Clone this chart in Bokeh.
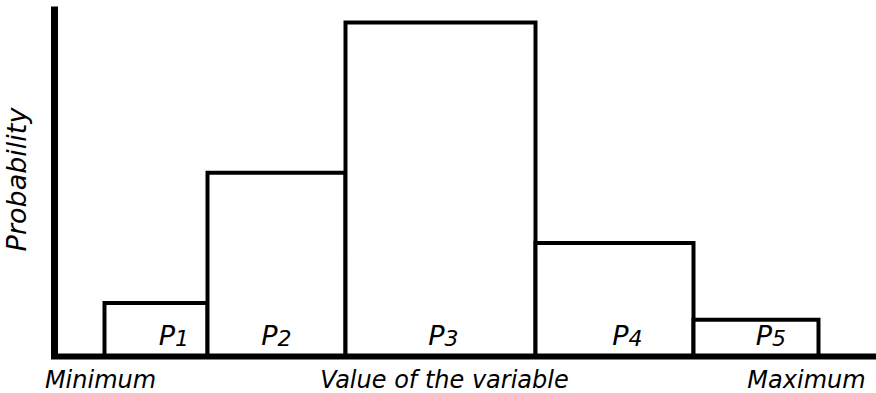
import math
from bokeh.plotting import figure
from bokeh.models import Range1d, ColumnDataSource
from bokeh.embed import file_html
from bokeh.resources import INLINE
from bokeh.core.properties import value

# ---------------- data ----------------
bin_edges = [5.0, 15.3, 29.1, 48.1, 63.9, 76.4]      # value of the variable
densities = [0.16, 0.55, 1.00, 0.34, 0.11]           # relative probability
bin_letters = ["P", "P", "P", "P", "P"]
bin_subscripts = ["1", "2", "3", "4", "5"]
x_labels = ["Minimum", "Value of the variable", "Maximum"]
x_label_pos = [4.6, 39.0, 75.2]
y_label = "Probability"

# ---------------- layout / style ----------------
W, H = 876, 393
X0, X1 = -5.4, 82.2
Y0, Y1 = -0.1108, 1.0659
xpx = (X1 - X0) / W
ypx = (Y1 - Y0) / H
label_shift_px = [18, 0, 3, 13, 15]
FONT = value("DejaVu Sans")

p = figure(width=W, height=H, x_range=Range1d(X0, X1), y_range=Range1d(Y0, Y1),
           output_backend="svg", toolbar_location=None, min_border=0,
           x_axis_type=None, y_axis_type=None)
p.grid.visible = False
p.outline_line_color = None
p.background_fill_color = "white"
p.border_fill_color = "white"

# bars
lefts = bin_edges[:-1]
rights = bin_edges[1:]
p.quad(left=lefts, right=rights, bottom=0, top=densities,
       fill_color="white", line_color="black", line_width=4, line_join="miter")

# axes lines
p.segment(x0=[0], y0=[0], x1=[0], y1=[Y1 - 6 * ypx], line_color="black", line_width=7)
p.segment(x0=[-3.5 * xpx], y0=[0], x1=[X1], y1=[0], line_color="black", line_width=6)

# bin labels P with subscripts
centers = [(a + b) / 2 for a, b in zip(lefts, rights)]
src = ColumnDataSource(dict(
    x=centers,
    letter=bin_letters,
    sub=bin_subscripts,
    dx_p=[s + 1 for s in label_shift_px],
    dx_s=[s + 1 for s in label_shift_px],
))
p.text(x="x", y=21 * ypx, text="letter", x_offset="dx_p", source=src,
       text_align="right", text_baseline="alphabetic",
       text_font=FONT, text_font_style="italic", text_font_size="27px",
       text_color="black")
p.text(x="x", y=18 * ypx, text="sub", x_offset="dx_s", source=src,
       text_align="left", text_baseline="alphabetic",
       text_font=FONT, text_font_style="italic", text_font_size="22px",
       text_color="black")

# x labels
p.text(x=x_label_pos, y=[-24 * ypx] * 3, text=x_labels,
       text_align="center", text_baseline="alphabetic",
       text_font=FONT, text_font_style="italic", text_font_size="24px",
       text_color="black")

# y label
p.text(x=[-3.8], y=[0.53], text=[y_label], angle=math.pi / 2,
       text_align="center", text_baseline="middle",
       text_font=FONT, text_font_style="italic", text_font_size="27px",
       text_color="black")

open("out.html", "w").write(file_html(p, INLINE))
